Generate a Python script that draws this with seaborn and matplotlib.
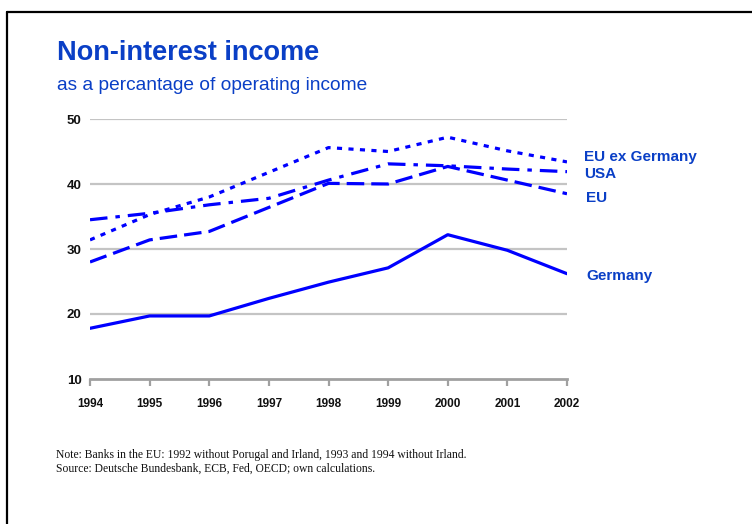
import matplotlib
matplotlib.use("Agg")
import matplotlib.pyplot as plt
from matplotlib.lines import Line2D
import seaborn as sns
import pandas as pd

years = [1994, 1995, 1996, 1997, 1998, 1999, 2000, 2001, 2002]
eu_ex_germany = [31.4, 35.3, 38.0, 41.8, 45.6, 45.0, 47.2, 45.1, 43.4]
usa = [34.5, 35.5, 36.8, 37.8, 40.6, 43.1, 42.8, 42.3, 41.9]
eu = [28.0, 31.4, 32.7, 36.4, 40.1, 40.0, 42.7, 40.6, 38.5]
germany = [17.8, 19.7, 19.7, 22.4, 24.9, 27.1, 32.2, 29.8, 26.2]
y_ticks = [10, 20, 30, 40, 50]

series = {
    "EU ex Germany": eu_ex_germany,
    "USA": usa,
    "EU": eu,
    "Germany": germany,
}
frames = [pd.DataFrame({"year": years, "value": v, "series": k}) for k, v in series.items()]
df = pd.concat(frames, ignore_index=True)

sns.set_theme(style="white")
plt.rcParams["font.family"] = ["Liberation Sans", "DejaVu Sans"]

LINE_BLUE = "#0000FF"
TEXT_BLUE = "#0A3FC6"

fig = plt.figure(figsize=(7.52, 5.24), dpi=100)
ax = fig.add_axes([90 / 752, 1 - 379 / 524, (567 - 90) / 752, (379 - 119) / 524])

styles = {
    "EU ex Germany": (0, (1.6, 2.0)),
    "USA": (0, (5.5, 2.5, 1.4, 2.5)),
    "EU": (0, (5.5, 2.2)),
    "Germany": "-",
}

for name in series:
    sub = df[df["series"] == name]
    sns.lineplot(data=sub, x="year", y="value", ax=ax, color=LINE_BLUE,
                 linewidth=2.3, legend=False, zorder=3)
    ax.lines[-1].set_linestyle(styles[name])
    ax.lines[-1].set_dash_capstyle("butt")

ax.set_xlim(years[0], years[-1])
ax.set_ylim(y_ticks[0], y_ticks[-1])
ax.set_xticks(years)
ax.set_yticks(y_ticks)
ax.set_xlabel("")
ax.set_ylabel("")

for yv in y_ticks[1:]:
    ax.axhline(yv, color="#C4C4C4", linewidth=1.6, zorder=1)

for s in ["top", "right", "left"]:
    ax.spines[s].set_visible(False)
ax.spines["bottom"].set_color("#A0A0A0")
ax.spines["bottom"].set_linewidth(2.0)
ax.spines["bottom"].set_zorder(2)

ax.tick_params(axis="x", which="major", bottom=True, length=5, width=1.6,
               color="#A0A0A0", pad=9, labelsize=8.5)
ax.tick_params(axis="y", which="major", left=False, length=0, pad=6, labelsize=9.5)
for lab in ax.get_xticklabels() + ax.get_yticklabels():
    lab.set_fontweight("bold")
    lab.set_color("#111111")

label_y = {"EU ex Germany": 44.2, "USA": 41.6, "EU": 37.8, "Germany": 25.9}
label_x = {"EU ex Germany": 2002.28, "USA": 2002.28, "EU": 2002.32, "Germany": 2002.32}
for name, yv in label_y.items():
    ax.text(label_x[name], yv, name, color=TEXT_BLUE, fontsize=11, fontweight="bold",
            va="center", ha="left", clip_on=False)

fig.text(57 / 752, 1 - 53 / 524, "Non-interest income", color=TEXT_BLUE,
         fontsize=19.5, fontweight="bold", va="center", ha="left")
fig.text(57 / 752, 1 - 85 / 524, "as a percantage of operating income", color=TEXT_BLUE,
         fontsize=13.8, va="center", ha="left")

serif = ["Liberation Serif", "DejaVu Serif"]
fig.text(56 / 752, 1 - 455 / 524,
         "Note: Banks in the EU: 1992 without Porugal and Irland, 1993 and 1994 without Irland.",
         fontsize=8.35, family=serif, color="#111111", va="center", ha="left")
fig.text(56 / 752, 1 - 469 / 524,
         "Source: Deutsche Bundesbank, ECB, Fed, OECD; own calculations.",
         fontsize=8.35, family=serif, color="#111111", va="center", ha="left")

# frame lines along the top and left edge
fig.add_artist(Line2D([6.5 / 752, 1.0], [1 - 11.5 / 524, 1 - 11.5 / 524],
                      transform=fig.transFigure, color="black", linewidth=1.6))
fig.add_artist(Line2D([6.5 / 752, 6.5 / 752], [0.0, 1 - 11.5 / 524],
                      transform=fig.transFigure, color="black", linewidth=1.6))

fig.savefig("out.png", dpi=100, facecolor="white")
